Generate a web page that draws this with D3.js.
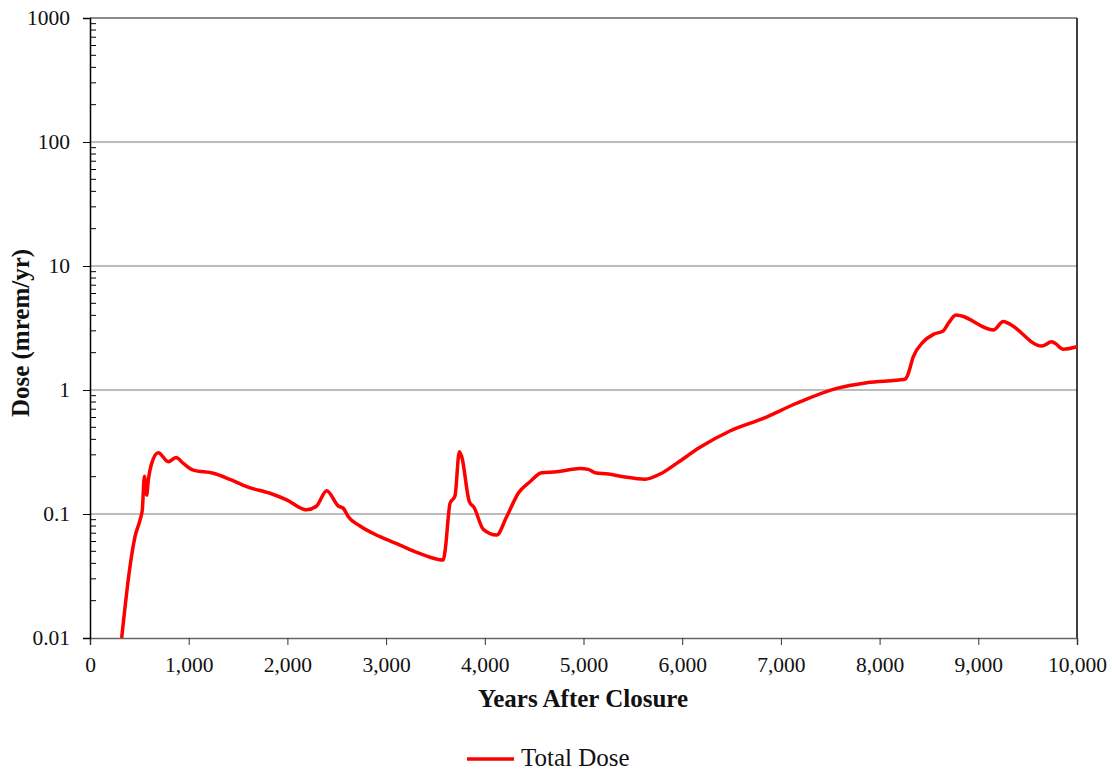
<!DOCTYPE html>
<html>
<head>
<meta charset="utf-8">
<script src="https://cdn.jsdelivr.net/npm/d3@7"></script>
<style>
  body { margin: 0; background: #fff; }
  svg text { font-family: "Liberation Serif", "Times New Roman", serif; }
</style>
</head>
<body>
<svg id="chart" width="1112" height="770"></svg>
<script>
// Total dose history (years after closure, mrem/yr)
const years = [321, 405, 456, 507, 530, 551, 574, 591, 625, 692, 794, 871, 946, 1047, 1250, 1418,
  1587, 1824, 1993, 2195, 2296, 2398, 2516, 2567, 2617, 2736, 2938, 3141, 3310, 3445, 3580, 3597,
  3648, 3698, 3742, 3766, 3843, 3891, 3985, 4120, 4221, 4339, 4458, 4576, 4728, 4964, 5049, 5117,
  5252, 5403, 5623, 5775, 5944, 6180, 6484, 6822, 7160, 7565, 7869, 8257, 8281, 8342, 8443, 8545,
  8646, 8697, 8774, 8831, 9152, 9253, 9304, 9642, 9744, 9777, 9861, 10000];
const dose = [0.01, 0.0376, 0.0656, 0.0895, 0.108, 0.202, 0.142, 0.188, 0.256, 0.312, 0.264, 0.286,
  0.256, 0.226, 0.213, 0.19, 0.166, 0.147, 0.13, 0.108, 0.116, 0.154, 0.116, 0.111, 0.095, 0.080,
  0.0656, 0.0562, 0.049, 0.0448, 0.0426, 0.05, 0.122, 0.14, 0.318, 0.29, 0.126, 0.113, 0.0752,
  0.0677, 0.095, 0.147, 0.182, 0.215, 0.219, 0.233, 0.229, 0.215, 0.21, 0.2, 0.191, 0.21, 0.256,
  0.345, 0.467, 0.591, 0.782, 1.03, 1.146, 1.22, 1.3, 1.86, 2.45, 2.81, 3.0, 3.45, 4.03, 3.95,
  3.05, 3.56, 3.45, 2.26, 2.45, 2.38, 2.13, 2.23];

const xTicks = [0, 1000, 2000, 3000, 4000, 5000, 6000, 7000, 8000, 9000, 10000];
const yTicks = [0.01, 0.1, 1, 10, 100, 1000];
const seriesName = "Total Dose";

const svg = d3.select("#chart");
const plotL = 90, plotR = 1077, plotT = 18, plotB = 638;

const x = d3.scaleLinear().domain([0, 10000]).range([plotL, plotR]);
const y = d3.scaleLog().domain([0.01, 1000]).range([plotB, plotT]);

// minor ticks (2..9 within each decade), drawn inside the plot
const minor = [];
for (let e = -2; e < 3; e++) for (let m = 2; m <= 9; m++) minor.push(m * Math.pow(10, e));

// horizontal gridlines at each decade
svg.append("g").selectAll("line").data(yTicks.slice(1, -1)).join("line")
  .attr("x1", plotL).attr("x2", plotR)
  .attr("y1", d => y(d)).attr("y2", d => y(d))
  .attr("stroke", "#a6a6a6").attr("stroke-width", 1.3);

// top and right frame
svg.append("line").attr("x1", plotL).attr("x2", plotR).attr("y1", y(1000)).attr("y2", y(1000))
  .attr("stroke", "#666").attr("stroke-width", 1.5);
svg.append("line").attr("x1", plotR).attr("x2", plotR).attr("y1", plotT).attr("y2", plotB)
  .attr("stroke", "#000").attr("stroke-width", 1.5);

// x axis
const xAxis = d3.axisBottom(x).tickValues(xTicks).tickSize(7).tickPadding(12)
  .tickFormat(d => d === 0 ? "0" : d3.format(",")(d));
const gx = svg.append("g").attr("transform", `translate(0,${plotB})`).call(xAxis);
gx.select(".domain").attr("stroke", "#666").attr("stroke-width", 1.6);
gx.selectAll(".tick line").attr("stroke", "#333");
gx.selectAll("text").attr("font-size", 21.5).attr("fill", "#111")
  .attr("font-family", "Liberation Serif, serif");

// y axis
const yAxis = d3.axisLeft(y).tickValues(yTicks).tickSize(7).tickPadding(13)
  .tickFormat(d => String(d));
const gy = svg.append("g").attr("transform", `translate(${plotL},0)`).call(yAxis);
gy.select(".domain").attr("stroke", "#000").attr("stroke-width", 1.5);
gy.selectAll(".tick line").attr("stroke", "#000");
gy.selectAll("text").attr("font-size", 21.5).attr("fill", "#111")
  .attr("font-family", "Liberation Serif, serif");

svg.append("g").selectAll("line").data(minor).join("line")
  .attr("x1", plotL).attr("x2", plotL + 6)
  .attr("y1", d => y(d)).attr("y2", d => y(d))
  .attr("stroke", "#000").attr("stroke-width", 1);

// dose curve
const pts = years.map((t, i) => [t, dose[i]]);
const line = d3.line().x(d => x(d[0])).y(d => y(d[1])).curve(d3.curveMonotoneX);
svg.append("path").datum(pts).attr("d", line)
  .attr("fill", "none").attr("stroke", "#ff0000").attr("stroke-width", 3.5)
  .attr("stroke-linejoin", "round");

// axis titles
svg.append("text").attr("x", 583).attr("y", 707).attr("text-anchor", "middle")
  .attr("font-size", 25).attr("font-weight", "bold").attr("fill", "#111")
  .text("Years After Closure");
svg.append("text").attr("transform", "translate(29,333) rotate(-90)")
  .attr("text-anchor", "middle").attr("font-size", 25).attr("font-weight", "bold").attr("fill", "#111")
  .text("Dose (mrem/yr)");

// legend
const lg = svg.append("g");
lg.append("line").attr("x1", 467).attr("x2", 514).attr("y1", 759).attr("y2", 759)
  .attr("stroke", "#ff0000").attr("stroke-width", 3.5);
lg.append("text").attr("x", 521).attr("y", 766).attr("font-size", 25).attr("fill", "#111")
  .text(seriesName);
</script>
</body>
</html>
